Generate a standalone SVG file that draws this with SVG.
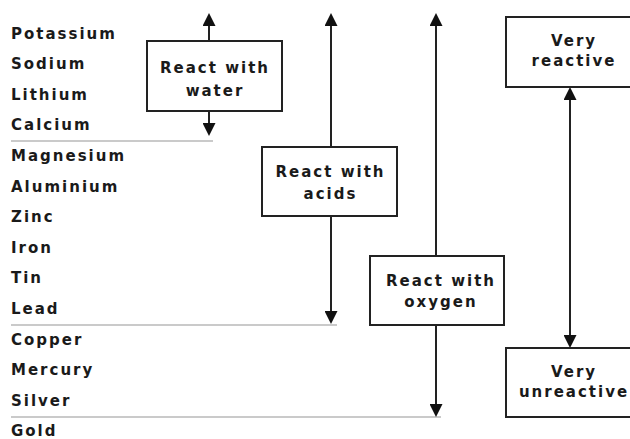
<svg xmlns="http://www.w3.org/2000/svg" width="630" height="439" viewBox="0 0 630 439">
<style>
  text { font-family: "DejaVu Sans", Verdana, sans-serif; font-weight: bold; font-size: 15px; letter-spacing: 2px; fill: #1a1a1a; }
  .box rect { fill: #fff; stroke: #222; stroke-width: 2; }
  .box text { text-anchor: middle; }
  .sep { stroke: #b8b8b8; stroke-width: 1.5; }
  .conn line { stroke: #222; stroke-width: 2; }
</style>
<defs>
  <marker id="ah" viewBox="0 0 13 13" refX="11" refY="6.5" markerWidth="13" markerHeight="13" markerUnits="userSpaceOnUse" orient="auto-start-reverse">
    <path d="M0,0 L13,6.5 L0,13 z" fill="#111"/>
  </marker>
</defs>
<rect width="630" height="439" fill="#fff"/>
<g id="metals">
  <text x="11" y="38.6">Potassium</text>
  <text x="11" y="69.2">Sodium</text>
  <text x="11" y="99.8">Lithium</text>
  <text x="11" y="130.4">Calcium</text>
  <text x="11" y="161">Magnesium</text>
  <text x="11" y="191.6">Aluminium</text>
  <text x="11" y="222.2">Zinc</text>
  <text x="11" y="252.8">Iron</text>
  <text x="11" y="283.4">Tin</text>
  <text x="11" y="314">Lead</text>
  <text x="11" y="344.6">Copper</text>
  <text x="11" y="375.2">Mercury</text>
  <text x="11" y="405.8">Silver</text>
  <text x="11" y="436">Gold</text>
</g>
<g id="separators">
  <line class="sep" x1="11" y1="141" x2="213" y2="141"/>
  <line class="sep" x1="11" y1="325" x2="337" y2="325"/>
  <line class="sep" x1="11" y1="417" x2="441" y2="417"/>
</g>
<g id="connectors" class="conn">
  <line x1="209" y1="41" x2="209" y2="15" marker-end="url(#ah)"/>
  <line x1="209" y1="111" x2="209" y2="134" marker-end="url(#ah)"/>
  <line x1="331" y1="147" x2="331" y2="15" marker-end="url(#ah)"/>
  <line x1="331" y1="216" x2="331" y2="322" marker-end="url(#ah)"/>
  <line x1="436" y1="256" x2="436" y2="15" marker-end="url(#ah)"/>
  <line x1="436" y1="325" x2="436" y2="415" marker-end="url(#ah)"/>
  <line x1="570" y1="89" x2="570" y2="346" marker-start="url(#ah)" marker-end="url(#ah)"/>
</g>
<g id="water" class="box">
  <rect x="147" y="41" width="135" height="70"/>
  <text x="215" y="73">React with</text>
  <text x="215" y="95.5">water</text>
</g>
<g id="acids" class="box">
  <rect x="262" y="147" width="135" height="69"/>
  <text x="330.5" y="177">React with</text>
  <text x="330.5" y="198.5">acids</text>
</g>
<g id="oxygen" class="box">
  <rect x="370" y="256" width="134" height="69"/>
  <text x="441" y="286">React with</text>
  <text x="441" y="307">oxygen</text>
</g>
<g id="very-reactive" class="box">
  <rect x="506" y="17" width="134" height="70"/>
  <text x="574" y="46">Very</text>
  <text x="574" y="66">reactive</text>
</g>
<g id="very-unreactive" class="box">
  <rect x="506" y="348" width="134" height="69"/>
  <text x="574" y="377">Very</text>
  <text x="574" y="397">unreactive</text>
</g>
</svg>
